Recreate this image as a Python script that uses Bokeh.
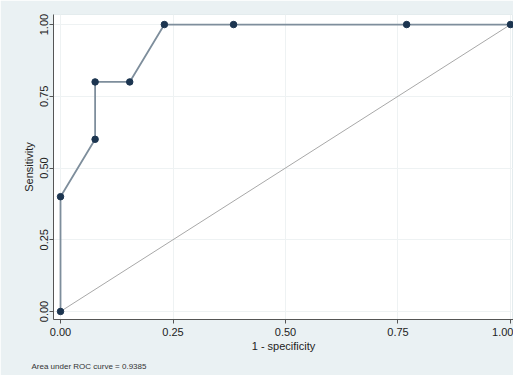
from bokeh.plotting import figure
from bokeh.models import Range1d, FixedTicker, Title
from bokeh.embed import file_html
from bokeh.resources import INLINE

fpr = [0.0, 0.0, 0.0769, 0.0769, 0.1538, 0.2308, 0.3846, 0.7692, 1.0]
tpr = [0.0, 0.4, 0.6, 0.8, 0.8, 1.0, 1.0, 1.0, 1.0]
diag_x = [0.0, 1.0]
diag_y = [0.0, 1.0]
ticks = [0.0, 0.25, 0.5, 0.75, 1.0]
tick_labels = {0.0: "0.00", 0.25: "0.25", 0.5: "0.50", 0.75: "0.75", 1.0: "1.00"}
auc_note = "Area under ROC curve = 0.9385"

BG = "#eaf1f3"
FONT = "Liberation Sans"

p = figure(width=513, height=375, output_backend="svg", toolbar_location=None,
           x_range=Range1d(-0.0156, 1.0067), y_range=Range1d(-0.028, 1.035),
           min_border_left=53, min_border_right=0, min_border_top=14, min_border_bottom=40)
p.background_fill_color = "white"
p.border_fill_color = BG
p.outline_line_color = "#e4ecee"

p.line(diag_x, diag_y, line_color="#a8a8a8", line_width=1)
p.line(fpr, tpr, line_color="#7e8e9c", line_width=1.8)
p.scatter(fpr, tpr, size=6.5, fill_color="#1c3550", line_color="#1c3550")

for ax in (p.xaxis[0], p.yaxis[0]):
    ax.ticker = FixedTicker(ticks=ticks)
    ax.major_label_overrides = tick_labels
    ax.minor_tick_line_color = None
    ax.axis_line_color = "#555555"
    ax.major_tick_line_color = "#555555"
    ax.major_tick_in = 0
    ax.major_tick_out = 4
    ax.major_label_text_font = FONT
    ax.major_label_text_font_size = "11px"
    ax.major_label_text_color = "#222222"
    ax.axis_label_text_font = FONT
    ax.axis_label_text_font_size = "11px"
    ax.axis_label_text_font_style = "normal"
    ax.axis_label_text_color = "#222222"

p.xaxis.axis_label = "1 - specificity"
p.yaxis.axis_label = "Sensitivity"
p.yaxis.major_label_orientation = "vertical"
p.xaxis.major_label_standoff = 4
p.xaxis.axis_label_standoff = 1
p.yaxis.major_label_standoff = 1
p.yaxis.axis_label_standoff = 3

p.xgrid.grid_line_color = "#eef2f3"
p.ygrid.grid_line_color = "#eef2f3"
p.xgrid.ticker = FixedTicker(ticks=ticks)
p.ygrid.ticker = FixedTicker(ticks=ticks)

note = Title(text=auc_note, align="left", text_font=FONT, text_font_size="8px",
             text_font_style="normal", text_color="#333333", offset=-22, standoff=10)
p.add_layout(note, "below")

open("out.html", "w").write(file_html(p, INLINE))
